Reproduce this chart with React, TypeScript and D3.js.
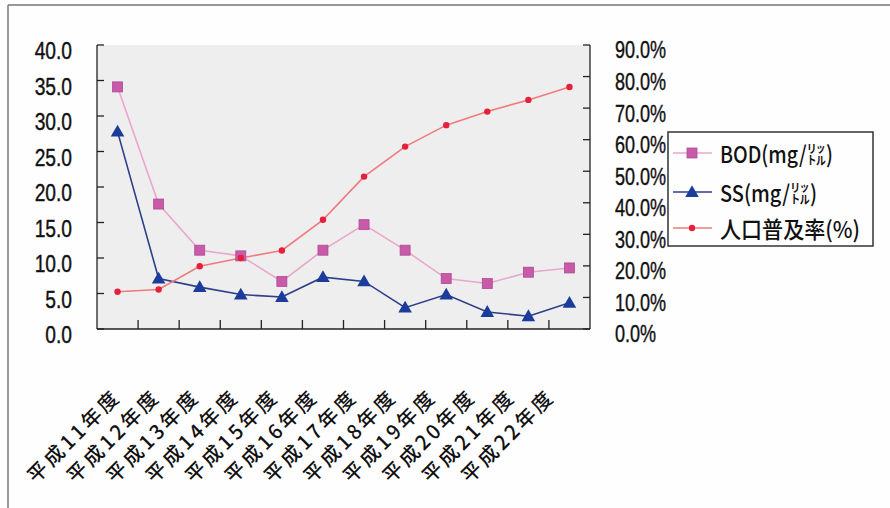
import * as d3 from "d3";

const W = 890;
const H = 508;

// categories and series
const years = [
  "平成11年度", "平成12年度", "平成13年度", "平成14年度", "平成15年度", "平成16年度",
  "平成17年度", "平成18年度", "平成19年度", "平成20年度", "平成21年度", "平成22年度",
];
const bod = [34.1, 17.6, 11.1, 10.3, 6.7, 11.1, 14.7, 11.1, 7.1, 6.4, 8.0, 8.6];
const ss = [27.8, 7.1, 5.9, 4.85, 4.5, 7.3, 6.7, 3.0, 4.85, 2.4, 1.8, 3.7];
const popRate = [11.8, 12.5, 19.9, 22.5, 24.9, 34.6, 48.3, 57.8, 64.6, 68.9, 72.6, 76.7];

const leftTicks = [0, 5, 10, 15, 20, 25, 30, 35, 40];
const rightTicks = [0, 10, 20, 30, 40, 50, 60, 70, 80, 90];

const legendItems = [
  { label: "BOD(mg/㍑)", len: 113, kind: "square" },
  { label: "SS(mg/㍑)", len: 97, kind: "triangle" },
  { label: "人口普及率(%)", len: 140, kind: "circle" },
];

const PLOT = { left: 97, right: 590, top: 45, bottom: 329 };

const NUM_FONT = "'Liberation Sans', Arial, sans-serif";
const JP_FONT = "'Noto Sans CJK JP', sans-serif";
const SQUEEZE = 0.8; // tick digits are condensed in the print

const COL = {
  bodLine: "#eaa6cc",
  bodMark: "#c85aa8",
  ssLine: "#2d3f88",
  ssMark: "#1c3c9c",
  popLine: "#f07a7c",
  popMark: "#e61f3a",
};

function Marker({ kind, x, y }: { kind: string; x: number; y: number }) {
  if (kind === "square") {
    return <rect x={x - 5} y={y - 5} width={10} height={10} fill={COL.bodMark} stroke="#b04a96" strokeWidth={0.8} />;
  }
  if (kind === "triangle") {
    const p = d3.symbol(d3.symbolTriangle, 80)() ?? "";
    return <path d={p} transform={`translate(${x},${y + 1})`} fill={COL.ssMark} />;
  }
  return <circle cx={x} cy={y} r={3.2} fill={COL.popMark} />;
}

export default function App() {
  const x = d3.scaleBand<string>().domain(years).range([PLOT.left, PLOT.right]);
  const yL = d3.scaleLinear().domain([0, 40]).range([PLOT.bottom, PLOT.top]);
  const yR = d3.scaleLinear().domain([0, 90]).range([PLOT.bottom, PLOT.top]);
  // rotated labels sit a little tighter than the categories
  const xLab = d3.scalePoint<string>().domain(years).range([120, 554]);

  const cx = (i: number) => (x(years[i]) ?? 0) + x.bandwidth() / 2;
  const line = d3.line<number>();

  const bodPts = bod.map((v, i) => [cx(i), yL(v)] as [number, number]);
  const ssPts = ss.map((v, i) => [cx(i), yL(v)] as [number, number]);
  const popPts = popRate.map((v, i) => [cx(i), yR(v)] as [number, number]);

  return (
    <svg
      width={W}
      height={H}
      style={{ position: "absolute", left: 0, top: 0, background: "#fefefe" }}
    >
      {/* outer frame */}
      <line x1={8} y1={5} x2={W} y2={5} stroke="#777" strokeWidth={1.5} />
      <line x1={8} y1={5} x2={8} y2={H} stroke="#777" strokeWidth={1.5} />

      {/* plot area */}
      <rect
        x={PLOT.left}
        y={PLOT.top}
        width={PLOT.right - PLOT.left}
        height={PLOT.bottom - PLOT.top}
        fill="#eeeeee"
      />

      {/* axes */}
      <g stroke="#222" strokeWidth={1.3}>
        <line x1={PLOT.left} y1={PLOT.top} x2={PLOT.left} y2={PLOT.bottom} />
        <line x1={PLOT.right} y1={PLOT.top} x2={PLOT.right} y2={PLOT.bottom} />
        <line x1={PLOT.left} y1={PLOT.bottom} x2={PLOT.right} y2={PLOT.bottom} />
        {leftTicks.map((t) => (
          <line key={"l" + t} x1={PLOT.left} x2={PLOT.left + 7} y1={yL(t)} y2={yL(t)} />
        ))}
        {rightTicks.map((t) => (
          <line key={"r" + t} x1={PLOT.right - 7} x2={PLOT.right} y1={yR(t)} y2={yR(t)} />
        ))}
        {years.slice(1).map((yr) => (
          <line key={yr} x1={x(yr)} x2={x(yr)} y1={PLOT.bottom - 9} y2={PLOT.bottom} />
        ))}
      </g>

      {/* tick labels */}
      {leftTicks.map((t) => (
        <text
          key={"lt" + t}
          transform={`translate(72,${yL(t) + 6}) scale(${SQUEEZE},1)`}
          textAnchor="end"
          dominantBaseline="central"
          fontFamily={NUM_FONT}
          fontSize={24}
          stroke="#111"
          strokeWidth={0.4}
          fill="#111"
        >
          {t.toFixed(1)}
        </text>
      ))}
      {rightTicks.map((t) => (
        <text
          key={"rt" + t}
          transform={`translate(615,${yR(t) + 5}) scale(${SQUEEZE * 0.94},1)`}
          textAnchor="start"
          dominantBaseline="central"
          fontFamily={NUM_FONT}
          fontSize={24}
          stroke="#111"
          strokeWidth={0.4}
          fill="#111"
        >
          {t.toFixed(1) + "%"}
        </text>
      ))}

      {/* category labels */}
      {years.map((yr) => (
        <text
          key={"x" + yr}
          transform={`translate(${xLab(yr)},400) rotate(-45)`}
          textAnchor="end"
          fontFamily={JP_FONT}
          fontSize={20}
          fontWeight={500}
          textLength={119}
          lengthAdjust="spacing"
          fill="#111"
        >
          {yr}
        </text>
      ))}

      {/* series */}
      <path d={line(bodPts) ?? ""} fill="none" stroke={COL.bodLine} strokeWidth={1.6} />
      <path d={line(ssPts) ?? ""} fill="none" stroke={COL.ssLine} strokeWidth={1.6} />
      <path d={line(popPts) ?? ""} fill="none" stroke={COL.popLine} strokeWidth={1.6} />
      {bodPts.map((p, i) => <Marker key={"b" + i} kind="square" x={p[0]} y={p[1]} />)}
      {ssPts.map((p, i) => <Marker key={"s" + i} kind="triangle" x={p[0]} y={p[1]} />)}
      {popPts.map((p, i) => <Marker key={"p" + i} kind="circle" x={p[0]} y={p[1]} />)}

      {/* legend */}
      <rect x={668} y={132} width={205} height={114} fill="#fefefe" stroke="#333" strokeWidth={1.5} />
      {legendItems.map((it, i) => {
        const ly = [153, 192, 228][i];
        const stroke = [COL.bodLine, COL.ssLine, COL.popLine][i];
        return (
          <g key={it.label}>
            <line x1={673} x2={712} y1={ly} y2={ly} stroke={stroke} strokeWidth={1.6} />
            <Marker kind={it.kind} x={692} y={ly} />
            <text
              x={720}
              y={ly}
              dominantBaseline="central"
              fontFamily={JP_FONT}
              fontSize={23}
              fontWeight={500}
              textLength={it.len}
              lengthAdjust="spacingAndGlyphs"
              fill="#111"
            >
              {it.label}
            </text>
          </g>
        );
      })}
    </svg>
  );
}
